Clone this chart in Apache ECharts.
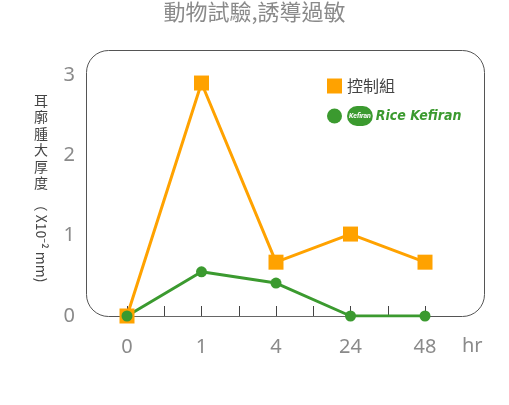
<!DOCTYPE html>
<html><head><meta charset="utf-8">
<script src="https://cdn.jsdelivr.net/npm/echarts@6/dist/echarts.min.js"></script>
<style>html,body{margin:0;padding:0;background:#fff}#c{width:509px;height:405px}</style>
</head><body><div id="c"></div>
<script>
const categories = ['0', '1', '4', '24', '48'];
const controlValues = [0, 2.9, 0.67, 1.02, 0.67];
const kefiranValues = [0, 0.55, 0.41, 0, 0];
const yTicks = [0, 1, 2, 3];
const titleText = '動物試驗,誘導過敏';
const controlName = '控制組';
const kefiranName = 'Rice Kefiran';
const yNameCJK = '耳廓腫大厚度';
const yNameLatin = '（ X10⁻² mm)';

const toPts = vals => vals.map((v, i) => [i, v]);
const CJK = '"Noto Sans CJK TC", "Noto Sans", sans-serif';
const chart = echarts.init(document.getElementById('c'), null, {renderer: 'canvas'});
chart.setOption({
  animation: false,
  backgroundColor: '#fff',
  title: {
    text: titleText, left: 'center', top: -4,
    textStyle: {fontFamily: CJK, fontSize: 22, fontWeight: 'normal', color: '#8a8a8a'}
  },
  grid: {left: 127, right: 84, top: 75, bottom: 89},
  legend: {
    orient: 'vertical', left: 322, top: 73, itemWidth: 15, itemHeight: 15, itemGap: 12,
    data: [{name: controlName, icon: 'rect'}, {name: kefiranName, icon: 'circle'}],
    formatter: n => n === kefiranName ? '{logo|Kefiran}{rk|Rice Kefiran}' : n,
    textStyle: {
      fontFamily: CJK, fontSize: 16, color: '#444',
      rich: {
        logo: {fontFamily: 'Roboto', fontSize: 7, fontStyle: 'italic', fontWeight: 'bold', color: '#fff',
               backgroundColor: '#3b9a2f', borderRadius: 12, padding: [7, 2, 6, 2]},
        rk: {fontFamily: '"DejaVu Sans Condensed", "Liberation Sans Narrow", sans-serif', fontSize: 14,
             fontStyle: 'italic', fontWeight: 'bold', color: '#3b9a2f', padding: [0, 0, 0, 3]}
      }
    }
  },
  xAxis: {
    type: 'value', min: 0, max: categories.length - 1, interval: 1,
    name: 'hr', nameLocation: 'end', nameGap: 37,
    nameTextStyle: {fontFamily: 'Noto Sans', fontSize: 20, color: '#8a8a8a', verticalAlign: 'top', padding: [20, 0, 0, 0]},
    axisLine: {show: true, lineStyle: {color: '#666', width: 1.2}},
    axisTick: {show: true, inside: true, length: 10, lineStyle: {color: '#444', width: 1}},
    minorTick: {show: true, splitNumber: 2, length: 10, lineStyle: {color: '#444', width: 1}},
    splitLine: {show: false},
    axisLabel: {margin: 21, fontFamily: 'Noto Sans', fontSize: 20, color: '#8a8a8a',
                formatter: v => categories[Math.round(v)] ?? ''}
  },
  yAxis: {
    type: 'value', min: yTicks[0], max: yTicks[yTicks.length - 1], interval: 1,
    axisLine: {show: false}, axisTick: {show: false}, splitLine: {show: false},
    axisLabel: {margin: 52, fontFamily: 'Noto Sans', fontSize: 20, color: '#8a8a8a'}
  },
  graphic: [
    {type: 'rect', z: -1, shape: {x: 86.5, y: 50.5, width: 398, height: 266, r: 22},
     style: {fill: 'none', stroke: '#555', lineWidth: 1}},
    {type: 'text', x: 41, y: 92, style: {text: yNameCJK.split('').join('\n'), font: '14px ' + CJK,
     lineHeight: 16.5, fill: '#444', align: 'center', verticalAlign: 'top'}},
    {type: 'text', x: 41, y: 240, rotation: -Math.PI / 2, style: {text: yNameLatin, font: '14px ' + CJK,
     fill: '#444', align: 'center', verticalAlign: 'middle'}}
  ],
  series: [
    {name: controlName, type: 'line', data: toPts(controlValues), symbol: 'rect', symbolSize: 15,
     itemStyle: {color: '#ffa200'}, lineStyle: {color: '#ffa200', width: 3}},
    {name: kefiranName, type: 'line', data: toPts(kefiranValues), symbol: 'circle', symbolSize: 11,
     itemStyle: {color: '#3b9a2f'}, lineStyle: {color: '#3b9a2f', width: 3}}
  ]
});
</script></body></html>
